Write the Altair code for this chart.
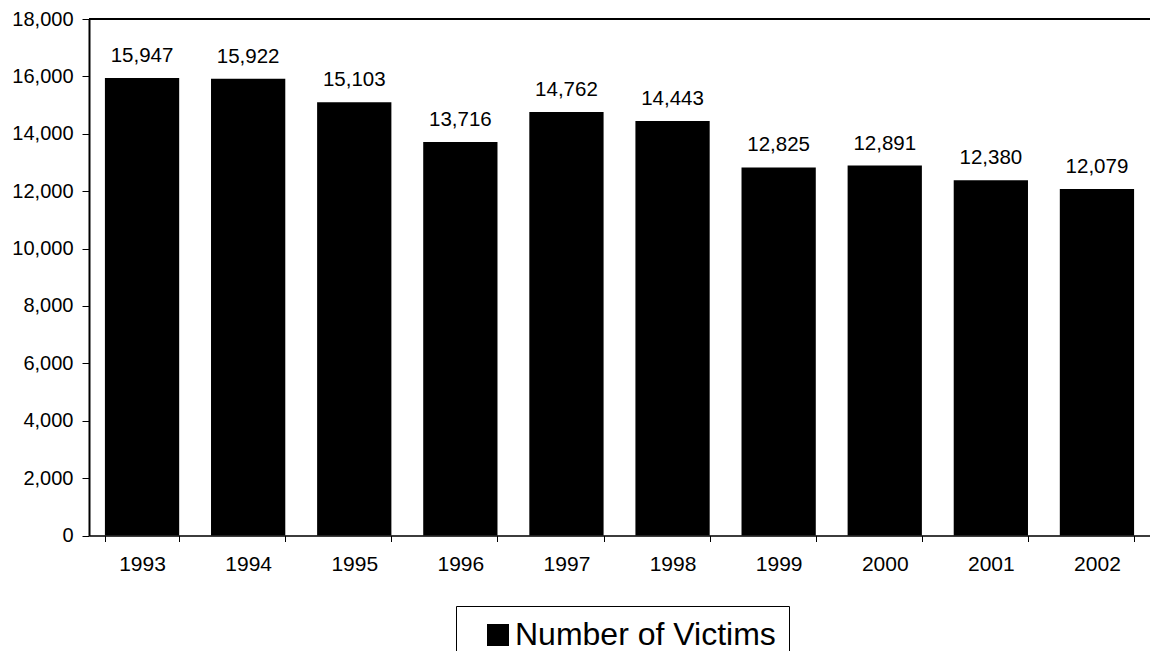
import altair as alt
import pandas as pd

years = ["1993", "1994", "1995", "1996", "1997", "1998", "1999", "2000", "2001", "2002"]
victims = [15947, 15922, 15103, 13716, 14762, 14443, 12825, 12891, 12380, 12079]
series = ["Number of Victims"] * len(years)
y_ticks = [0, 2000, 4000, 6000, 8000, 10000, 12000, 14000, 16000, 18000]

df = pd.DataFrame({"year": years, "victims": victims, "series": series})

FONT = "Liberation Sans"

x_axis = alt.Axis(labelAngle=0, tickBand="extent", labelFontSize=21,
                  labelColor="black", tickColor="black", domainColor="black",
                  tickSize=6, labelPadding=12, domainWidth=1.5, labelFont=FONT)
y_axis = alt.Axis(values=y_ticks, format=",.0f", grid=False, labelFontSize=20,
                  labelColor="black", tickColor="black", domainColor="black",
                  tickSize=7, labelPadding=9, domainWidth=2, labelFont=FONT)
x_scale = alt.Scale(paddingInner=0.3, paddingOuter=0.15)
y_scale = alt.Scale(domain=[0, 18000], nice=False)

x = alt.X("year:N", sort=years, title=None, scale=x_scale, axis=x_axis)
y = alt.Y("victims:Q", title=None, scale=y_scale, axis=y_axis)

base = alt.Chart(df)

bars = base.mark_bar(color="black").encode(
    x=x, y=y,
    color=alt.Color("series:N", title=None,
                    scale=alt.Scale(range=["black"]),
                    legend=alt.Legend(orient="none", legendX=367, legendY=587,
                                      symbolType="square", symbolSize=484,
                                      symbolStrokeWidth=0, symbolFillColor="black",
                                      symbolOffset=13,
                                      labelFontSize=32, labelFont=FONT,
                                      labelColor="black", labelLimit=500,
                                      labelOffset=1, padding=13,
                                      strokeColor="black", fillColor="white")),
)

labels = base.mark_text(baseline="alphabetic", dy=-16, fontSize=20.5,
                        font=FONT, color="black").encode(
    x=x, y=y,
    text=alt.Text("victims:Q", format=",.0f"),
)

top_rule = alt.Chart(df).mark_rule(color="black", strokeWidth=2).encode(
    y=alt.YDatum(18000, type="quantitative", scale=y_scale, axis=y_axis, title=None)
)

chart = alt.layer(bars, labels, top_rule).properties(
    width=1061, height=516.5,
    autosize=alt.AutoSizeParams(type="none"),
    padding={"left": 81, "top": 11, "right": 0, "bottom": 115.5},
).configure_view(stroke=None).configure(background="white")

chart.save("out.html", embed_options={"renderer": "svg", "actions": False})
